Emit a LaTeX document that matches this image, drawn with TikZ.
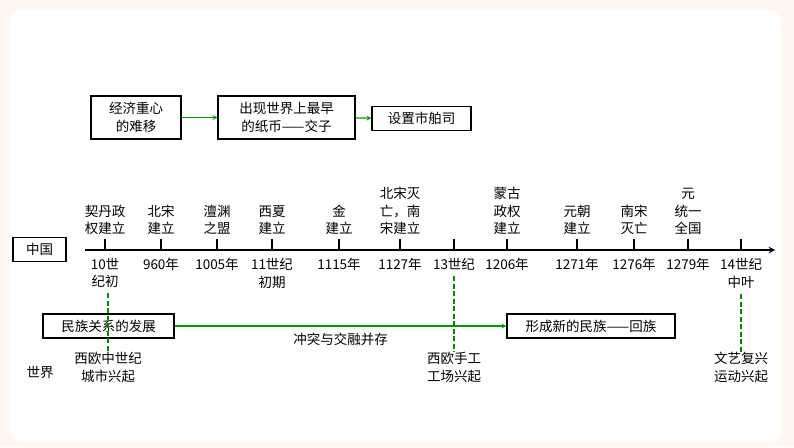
\documentclass[tikz,border=0pt]{standalone}
\usepackage{fontspec}
\setmainfont{Noto Sans CJK SC}
\begin{document}
\begin{tikzpicture}[x=1pt,y=-1pt,
  lab/.style={font=\fontsize{13.5}{17.5}\selectfont,align=center,inner sep=0pt},
  bx/.style={draw,line width=1.1pt,font=\fontsize{13.5}{17.5}\selectfont,align=center,inner sep=3pt,minimum height=24pt},
  garr/.style={draw=green!60!black,line width=1.2pt,-stealth},
  gdash/.style={draw=green!55!black,line width=1.2pt,dash pattern=on 5pt off 2.5pt}]
\fill[orange!6] (0,0) rectangle (794,447);
\useasboundingbox (0,0) rectangle (794,447);
\fill[white,rounded corners=12pt] (10,10) rectangle (781,442);
% top chain
\node[bx,minimum width=90pt,minimum height=43pt] (e1) at (136,117.5) {经济重心\\的难移};
\node[bx,minimum width=137pt,minimum height=43pt] (e2) at (286.5,117.5) {出现世界上最早\\的纸币——交子};
\node[bx,minimum width=99pt] (e3) at (421.5,118.5) {设置市舶司};
\draw[garr] (e1) -- (e2);
\draw[garr] (e2) -- (e3);
% axis
\coordinate (a0) at (85,250);
\coordinate (a1) at (775,250);
\draw[line width=1.8pt,-stealth] (a0) -- (a1);
\node[bx,minimum width=53pt] (cn) at (39.5,249.5) {中国};
\foreach \x/\up/\dn in {105/契丹政\\权建立/10世\\纪初, 161/北宋\\建立/960年, 217/澶渊\\之盟/1005年, 272/西夏\\建立/11世纪\\初期, 339/金\\建立/1115年, 400/北宋灭\\亡，南\\宋建立/1127年, 454//13世纪, 507/蒙古\\政权\\建立/1206年, 577/元朝\\建立/1271年, 634/南宋\\灭亡/1276年, 688/元\\统一\\全国/1279年, 741//14世纪\\中叶}{
  \draw[line width=1.3pt] (\x,239) -- (\x,250);
  \node[lab,anchor=south] at (\x,235) {\up};
  \node[lab,anchor=north] at (\x,258) {\dn};
}
% relations
\node[bx,minimum width=131pt] (m1) at (108.5,326) {民族关系的发展};
\node[bx,minimum width=168pt] (m2) at (591,326) {形成新的民族——回族};
\draw[garr] (m1) -- (m2) node[lab,midway,below=6pt] {冲突与交融并存};
% world
\node[lab] (w) at (40,372) {世界};
\node[lab,anchor=north] (w1) at (108,352) {西欧中世纪\\城市兴起};
\node[lab,anchor=north] (w2) at (454,352) {西欧手工\\工场兴起};
\node[lab,anchor=north] (w3) at (741,352) {文艺复兴\\运动兴起};
\coordinate (d1) at (108,293);
\coordinate (d2) at (454,276);
\coordinate (d3) at (741,294);
\draw[gdash] (d1) -- (w1.north);
\draw[gdash] (d2) -- (w2.north);
\draw[gdash] (d3) -- (w3.north);
\end{tikzpicture}
\end{document}
